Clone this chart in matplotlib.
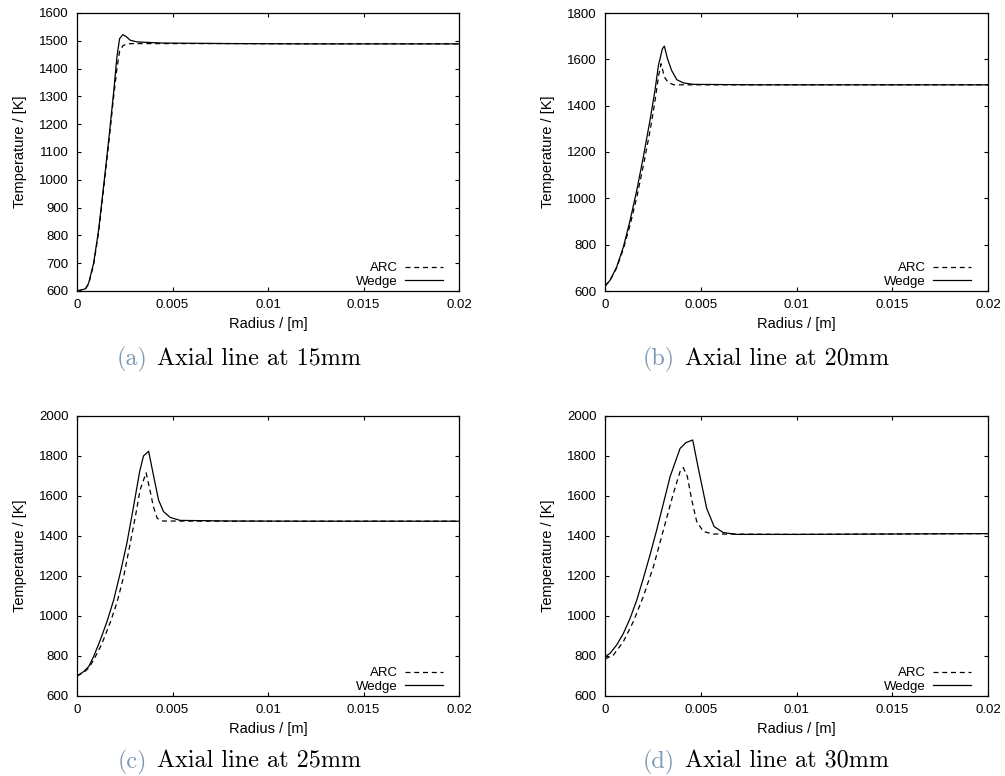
import matplotlib
matplotlib.use('Agg')
import matplotlib.pyplot as plt

W, H = 1005, 776
plt.rcParams['font.family'] = ['Liberation Sans', 'DejaVu Sans']

# ---------------- data ----------------
xticks = [0, 0.005, 0.01, 0.015, 0.02]
xticklabels = ['0', '0.005', '0.01', '0.015', '0.02']

# (a) Axial line at 15mm
r_a_wedge = [0, 0.00044, 0.00061, 0.00087, 0.00113, 0.00139, 0.00166, 0.00192, 0.00209, 0.00223,
             0.0024, 0.00256, 0.00279, 0.00314, 0.0044, 0.008, 0.012, 0.016, 0.02]
T_a_wedge = [600, 608, 628, 700, 819, 975, 1143, 1316, 1442, 1508,
             1522, 1516, 1502, 1496, 1492, 1490, 1489, 1489, 1489]
r_a_arc = [0, 0.00044, 0.00061, 0.00087, 0.00113, 0.00139, 0.00166, 0.00192, 0.00209, 0.00223,
           0.0024, 0.0026, 0.003, 0.0044, 0.008, 0.012, 0.016, 0.02]
T_a_arc = [600, 607, 625, 695, 810, 965, 1130, 1300, 1400, 1462,
           1482, 1489, 1490, 1490, 1490, 1489, 1489, 1489]
yticks_a = [600, 700, 800, 900, 1000, 1100, 1200, 1300, 1400, 1500, 1600]

# (b) Axial line at 20mm
r_b_wedge = [0, 0.00026, 0.00061, 0.00096, 0.00131, 0.00166, 0.002, 0.00235, 0.00261, 0.00279,
             0.003, 0.0031, 0.00326, 0.00348, 0.00375, 0.0041, 0.00462, 0.008, 0.012, 0.016, 0.02]
T_b_wedge = [621, 646, 704, 790, 905, 1035, 1178, 1337, 1466, 1574,
             1646, 1657, 1603, 1552, 1512, 1498, 1492, 1490, 1490, 1490, 1490]
r_b_arc = [0, 0.00026, 0.00061, 0.00096, 0.00131, 0.00166, 0.002, 0.00235, 0.00261, 0.0028,
           0.00293, 0.0031, 0.0033, 0.0036, 0.0045, 0.008, 0.012, 0.016, 0.02]
T_b_arc = [621, 645, 700, 782, 885, 1005, 1140, 1290, 1420, 1530,
           1581, 1524, 1500, 1490, 1490, 1490, 1490, 1490, 1490]
yticks_b = [600, 800, 1000, 1200, 1400, 1600, 1800]

# (c) Axial line at 25mm
r_c_wedge = [0, 0.00035, 0.00061, 0.00087, 0.00122, 0.00157, 0.00192, 0.00226, 0.00261, 0.00296,
             0.00328, 0.00348, 0.00375, 0.004, 0.00427, 0.00453, 0.00488, 0.0054, 0.008, 0.012,
             0.016, 0.02]
T_c_wedge = [700, 722, 747, 797, 880, 972, 1080, 1213, 1363, 1547,
             1722, 1800, 1824, 1705, 1580, 1522, 1493, 1478, 1475, 1474,
             1474, 1474]
r_c_arc = [0, 0.00035, 0.00061, 0.00087, 0.00122, 0.0014, 0.00175, 0.0021, 0.00245, 0.0028,
           0.0031, 0.0033, 0.00362, 0.0038, 0.004, 0.0042, 0.0045, 0.008, 0.012, 0.016, 0.02]
T_c_arc = [700, 718, 740, 780, 845, 885, 970, 1070, 1200, 1370,
           1520, 1630, 1716, 1638, 1547, 1488, 1475, 1474, 1474, 1474, 1474]
yticks_c = [600, 800, 1000, 1200, 1400, 1600, 1800, 2000]

# (d) Axial line at 30mm
r_d_wedge = [0, 0.00026, 0.00061, 0.00096, 0.00131, 0.00166, 0.002, 0.00235, 0.0027, 0.00305,
             0.0034, 0.00392, 0.00423, 0.00458, 0.00488, 0.00531, 0.0057, 0.00618, 0.00688, 0.01,
             0.015, 0.02]
T_d_wedge = [797, 813, 855, 913, 988, 1080, 1188, 1305, 1430, 1563,
             1697, 1838, 1867, 1880, 1735, 1538, 1447, 1417, 1408, 1408,
             1410, 1412]
r_d_arc = [0, 0.00044, 0.00096, 0.00148, 0.002, 0.00253, 0.00305, 0.00357, 0.00392, 0.00409,
           0.0043, 0.00453, 0.00479, 0.00514, 0.00566, 0.01, 0.015, 0.02]
T_d_arc = [785, 805, 872, 972, 1097, 1247, 1430, 1613, 1722, 1742,
           1697, 1580, 1472, 1422, 1410, 1408, 1410, 1412]
yticks_d = [600, 800, 1000, 1200, 1400, 1600, 1800, 2000]

captions = ['Axial line at 15mm', 'Axial line at 20mm', 'Axial line at 25mm', 'Axial line at 30mm']
letters = ['(a)', '(b)', '(c)', '(d)']
series_labels = ['ARC', 'Wedge']

# ---------------- figure ----------------
fig = plt.figure(figsize=(W / 100, H / 100), dpi=100)


def px_axes(l, t, r, b):
    return fig.add_axes([l / W, 1 - b / H, (r - l) / W, (b - t) / H])


boxes = [(77, 13, 459, 291), (605, 13, 988, 291), (77, 416, 459, 696), (605, 416, 988, 696)]
cap_base = [365, 365, 768, 768]
data = [
    (r_a_arc, T_a_arc, r_a_wedge, T_a_wedge, yticks_a),
    (r_b_arc, T_b_arc, r_b_wedge, T_b_wedge, yticks_b),
    (r_c_arc, T_c_arc, r_c_wedge, T_c_wedge, yticks_c),
    (r_d_arc, T_d_arc, r_d_wedge, T_d_wedge, yticks_d),
]

tick_fs = 9.5
label_fs = 10.5
cap_color = '#7b98b4'

for i, (box, (ra, Ta, rw, Tw, yt)) in enumerate(zip(boxes, data)):
    ax = px_axes(*box)
    ax.plot(ra, Ta, color='black', lw=0.9, linestyle=(0, (4, 3)), label=series_labels[0])
    ax.plot(rw, Tw, color='black', lw=0.9, linestyle='-', label=series_labels[1])
    ax.set_xlim(0, 0.02)
    ax.set_ylim(yt[0], yt[-1])
    ax.set_xticks(xticks)
    ax.set_xticklabels(xticklabels)
    ax.set_yticks(yt)
    ax.set_yticklabels([str(v) for v in yt])
    ax.tick_params(direction='in', length=3, width=0.8, top=True, right=True,
                   labelsize=tick_fs, pad=6)
    for s in ax.spines.values():
        s.set_linewidth(0.9)
    axh = box[3] - box[1]
    axw = box[2] - box[0]
    ax.set_xlabel('Radius / [m]', fontsize=label_fs)
    ax.xaxis.set_label_coords(0.5, -(317 - 291) / axh)
    ax.set_ylabel('Temperature / [K]', fontsize=label_fs)
    ax.yaxis.set_label_coords(-(77 - 27) / axw, 0.5)
    ax.legend(loc='lower right', bbox_to_anchor=((443 - 77) / axw, 3 / axh),
              markerfirst=False, frameon=False, fontsize=tick_fs, borderpad=0,
              handlelength=2.9, handletextpad=0.55, labelspacing=0.1, borderaxespad=0)

    # caption
    xoff = box[0] - 77
    ybase = cap_base[i]
    fig.text((147 + xoff) / W, 1 - ybase / H, letters[i], color=cap_color,
             family='cmr10', fontsize=17.4, ha='right', va='baseline')
    fig.text((157 + xoff) / W, 1 - ybase / H, captions[i], color='black',
             family='cmr10', fontsize=17.4, ha='left', va='baseline')

fig.savefig('out.png', dpi=100)
